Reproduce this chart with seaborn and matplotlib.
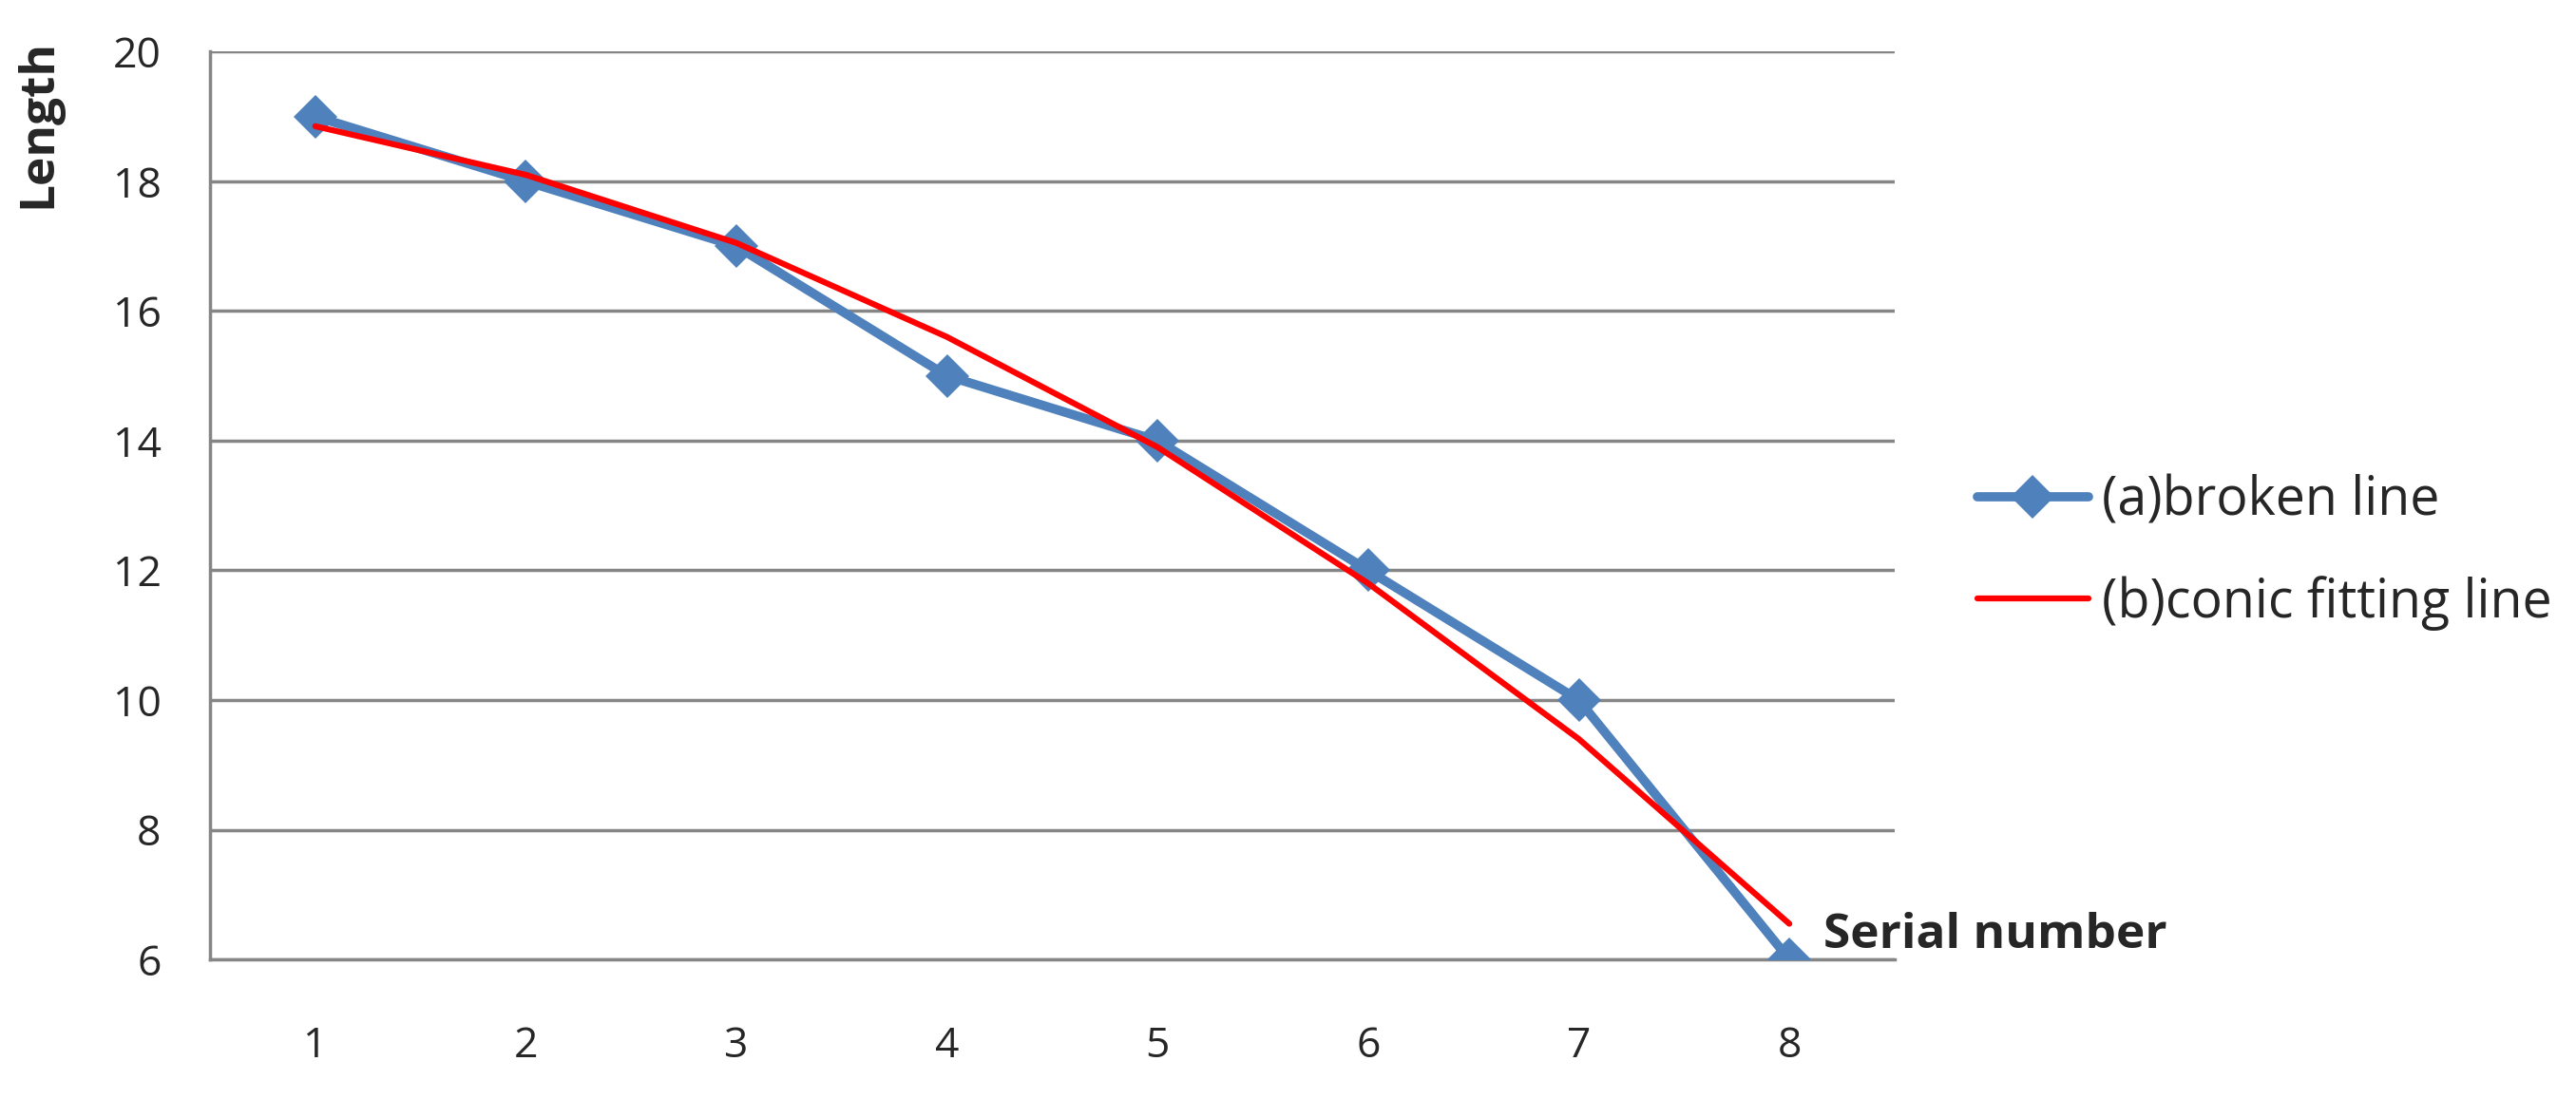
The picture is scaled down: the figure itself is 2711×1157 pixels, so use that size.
import matplotlib.pyplot as plt
import matplotlib as mpl
import seaborn as sns
import pandas as pd

# data
serial = [1, 2, 3, 4, 5, 6, 7, 8]
broken = [19, 18, 17, 15, 14, 12, 10, 6]
conic = [18.85, 18.1, 17.05, 15.6, 13.9, 11.8, 9.4, 6.55]
yticks = [6, 8, 10, 12, 14, 16, 18, 20]

sns.set_style("white")
plt.rcParams['font.family'] = ['Open Sans', 'DejaVu Sans']

blue = "#4F81BD"
red = "#FF0000"
grey = "#868686"

df = pd.DataFrame({'x': serial, 'broken': broken, 'conic': conic})

fig = plt.figure(figsize=(27.11, 11.57), dpi=100)
ax = fig.add_axes([0.0815, 0.127, 0.654, 0.826])

sns.lineplot(data=df, x='x', y='broken', ax=ax, color=blue, lw=7,
             marker='D', markersize=23, markeredgewidth=0,
             label='(a)broken line', zorder=3)
sns.lineplot(data=df, x='x', y='conic', ax=ax, color=red, lw=4.5,
             label='(b)conic fitting line', zorder=4)

ax.set_xlim(0.5, 8.5)
ax.set_ylim(6, 20)
ax.set_yticks(yticks)
ax.set_yticklabels([str(v) for v in yticks], fontsize=32)
ax.yaxis.grid(True, color=grey, lw=2.5)
ax.set_axisbelow(True)

# category ticks between points, labels centred on points
ax.set_xticks([v + 0.5 for v in [0] + serial])
ax.set_xticklabels([])
ax.set_xticks(serial, minor=True)
ax.set_xticklabels([str(v) for v in serial], minor=True, fontsize=32)
ax.tick_params(axis='x', which='major', length=15, width=2.5, color=grey, direction='out')
ax.tick_params(axis='x', which='minor', length=0, pad=50)
ax.tick_params(axis='y', length=15, width=2.5, color=grey, direction='out', pad=22)

for s in ['top', 'right']:
    ax.spines[s].set_visible(False)
for s in ['left', 'bottom']:
    ax.spines[s].set_color(grey)
    ax.spines[s].set_linewidth(2.5)

ax.set_xlabel('')
ax.set_ylabel('')
fig.text(0.0055, 0.965, 'Length', rotation=90, fontsize=37, fontweight='bold',
         va='top', ha='left')
fig.text(0.7079, 0.1374, 'Serial number', fontsize=37, fontweight='bold',
         va='baseline', ha='left')

ax.get_legend().remove()
h, l = ax.get_legend_handles_labels()
fig.legend(h, l, loc='center left', bbox_to_anchor=(0.7676, 0.4974), frameon=False,
           fontsize=40, handlelength=2.1, handletextpad=0.25, labelspacing=0.9,
           borderpad=0, borderaxespad=0)

plt.savefig('out.png', dpi=100)
